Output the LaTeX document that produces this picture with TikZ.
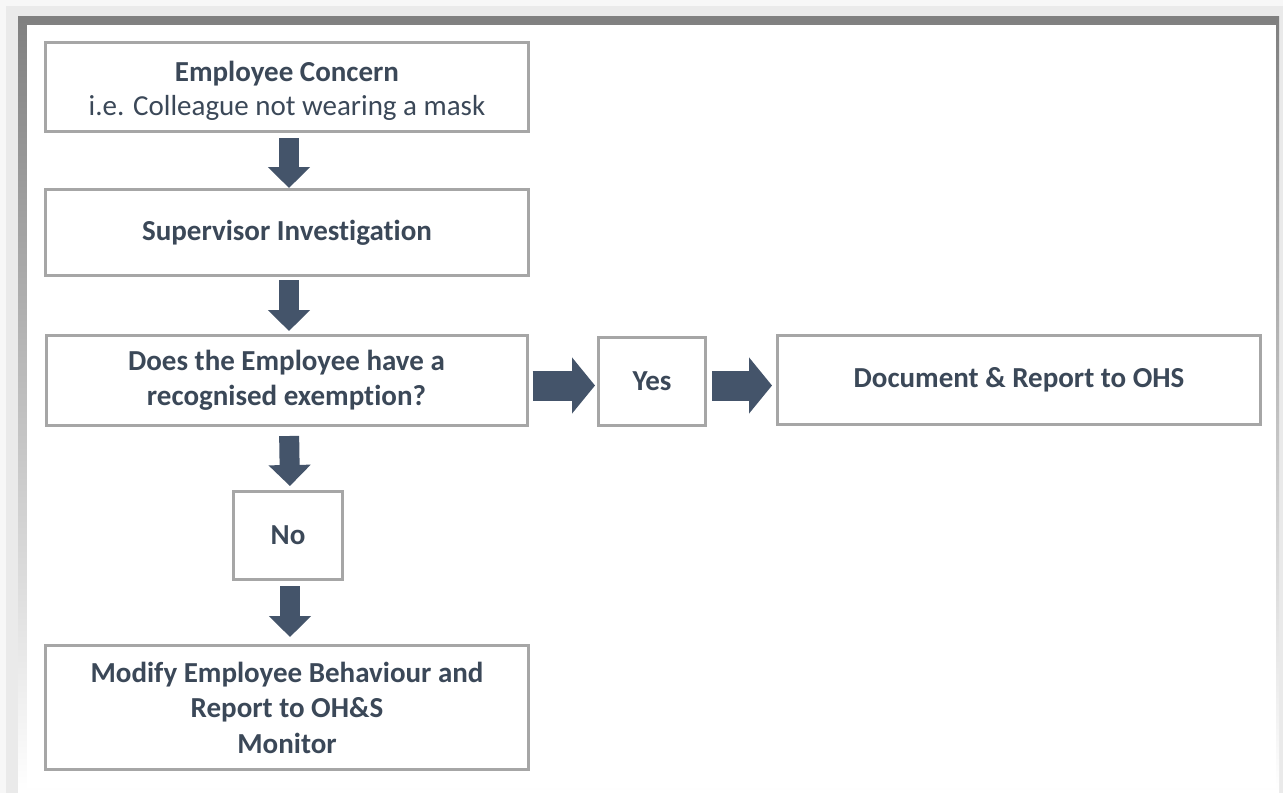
\documentclass[tikz,border=0pt]{standalone}
\usepackage{fontspec}
\setmainfont[Ligatures=NoCommon]{Carlito}
\usetikzlibrary{arrows.meta}
\definecolor{arrowc}{HTML}{44546A}
\definecolor{textc}{HTML}{3B4858}
\definecolor{boxc}{HTML}{A6A6A6}
\definecolor{glow}{HTML}{EAEAEA}
\definecolor{shade}{HTML}{C3C3C3}
\newcommand{\lowerby}[1]{\raisebox{-4pt}[\height][\depth]{#1}}
\tikzset{
  flowbox/.style={draw=boxc, line width=3pt, fill=white, rectangle, inner sep=0pt,
    align=center, text=textc, font=\fontsize{29}{35.5}\selectfont\bfseries},
  downarrow/.style={draw=arrowc, line width=20pt, -{Triangle[length=21pt,width=41pt]}},
  rightarrow/.style={draw=arrowc, line width=30pt, -{Triangle[length=23pt,width=55pt]}},
}
\begin{document}
\begin{tikzpicture}[x=1pt,y=-1pt]
\useasboundingbox (0,0) rectangle (1283,793);
\fill[white!97!black] (0,0) rectangle (1283,793);
\fill[glow] (6,6) rectangle (1283,793);
\fill[shade] (18,16) rectangle (1279,792);
\fill[white] (27,25) rectangle (1276,788);

\node[flowbox, minimum width=483pt, minimum height=89pt] (concern) at (287,87)
  {\lowerby{Employee Concern}\\[-1pt]{\mdseries\lowerby{i.e. Colleague not wearing a mask}}};
\node[flowbox, minimum width=483pt, minimum height=86pt] (invest) at (287,232.5)
  {Supervisor Investigation};
\node[flowbox, minimum width=481pt, minimum height=90pt] (question) at (286.5,380.5)
  {Does the Employee have a\\recognised exemption?};
\node[flowbox, minimum width=107pt, minimum height=88pt] (yes) at (652,381.5)
  {Yes};
\node[flowbox, minimum width=483pt, minimum height=89pt] (doc) at (1019,380)
  {Document \& Report to OHS};
\node[flowbox, minimum width=109pt, minimum height=88pt] (no) at (288,535.5)
  {No};
\node[flowbox, minimum width=483pt, minimum height=124pt] (modify) at (287,707.5)
  {Modify Employee Behaviour and\\Report to OH\&S\\Monitor};

\draw[downarrow, shorten <=5pt] ([xshift=2pt]concern.south) -- ([xshift=2pt]invest.north);
\draw[downarrow, shorten <=3pt, shorten >=3pt] ([xshift=2pt]invest.south) -- ([xshift=2pt]invest.south |- question.north);
\draw[downarrow, shorten <=9pt, shorten >=4pt] ([xshift=2.5pt]question.south) -- ([xshift=2pt]no.north);
\draw[downarrow, shorten <=5pt, shorten >=7pt] ([xshift=2pt]no.south) -- ([xshift=2pt]no.south |- modify.north);
\draw[rightarrow, shorten <=4pt, shorten >=2pt] ([yshift=-5pt]question.east) -- ([yshift=-4pt]yes.west);
\draw[rightarrow, shorten <=5pt, shorten >=4pt] ([yshift=-4pt]yes.east) -- ([yshift=-4pt]yes.east -| doc.west);
\end{tikzpicture}
\end{document}
